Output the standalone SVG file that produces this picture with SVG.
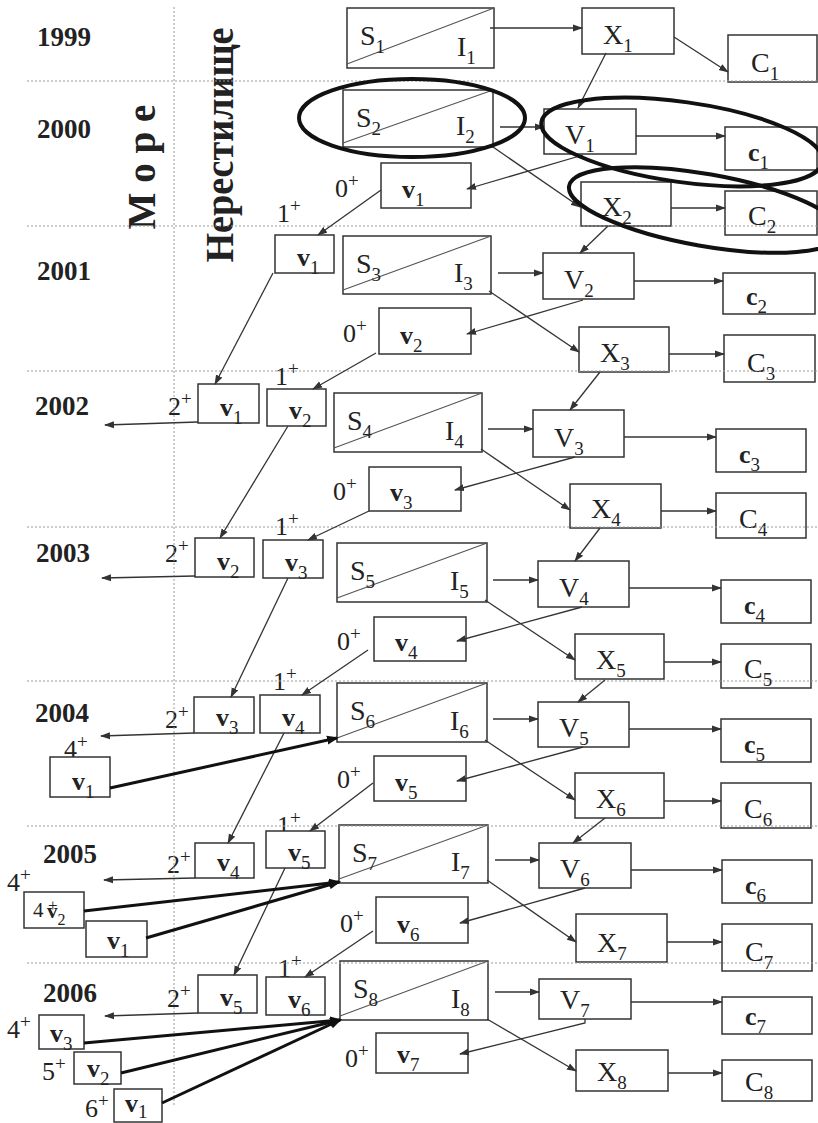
<svg xmlns="http://www.w3.org/2000/svg" width="818" height="1123" viewBox="0 0 818 1123">
<defs>
<marker id="ah" markerUnits="userSpaceOnUse" markerWidth="10" markerHeight="8" refX="9" refY="4" orient="auto"><path d="M0,0.5 L10,4 L0,7.5 z" fill="#333"/></marker>
<marker id="ahb" markerUnits="userSpaceOnUse" markerWidth="12" markerHeight="10" refX="10" refY="5" orient="auto"><path d="M0,0.5 L12,5 L0,9.5 z" fill="#111"/></marker>
<style>
text{font-family:"Liberation Serif","Times New Roman",serif}
.t{fill:#222}
.u{font-size:28px}
.l{font-size:26px;font-weight:bold}
.sb{font-size:19px;font-weight:normal}
.n{font-size:26px}
.sp{font-size:19px}
.yr{font-size:27px;font-weight:bold}
.big{font-size:40px;font-weight:bold}
.b{fill:#fff;stroke:#333;stroke-width:1.5}
.dg{stroke:#555;stroke-width:1.1}
.g{stroke:#9a9a9a;stroke-width:1;stroke-dasharray:2 2;fill:none}
.c{stroke:#333;stroke-width:1.3;fill:none;marker-end:url(#ah)}
.k{stroke:#111;stroke-width:3;fill:none;marker-end:url(#ahb)}
.e{fill:none;stroke:#111;stroke-width:4}
</style>
</defs>
<rect x="0" y="0" width="818" height="1123" fill="#fff"/>

<g id="labels">
<text class="t yr" x="37" y="46">1999</text>
<text class="t yr" x="37" y="138">2000</text>
<text class="t yr" x="37" y="280">2001</text>
<text class="t yr" x="35" y="415">2002</text>
<text class="t yr" x="36" y="562">2003</text>
<text class="t yr" x="35" y="722">2004</text>
<text class="t yr" x="43" y="863">2005</text>
<text class="t yr" x="43" y="1002">2006</text>
<text class="t big" transform="translate(155,167) rotate(-90)" text-anchor="middle" textLength="125" lengthAdjust="spacingAndGlyphs">М о р е</text>
<text class="t big" transform="translate(233,145) rotate(-90)" text-anchor="middle" textLength="235" lengthAdjust="spacingAndGlyphs">Нерестилище</text>

<text class="t n" x="335" y="197">0<tspan class="sp" dy="-10">+</tspan></text>
<text class="t n" x="343" y="342">0<tspan class="sp" dy="-10">+</tspan></text>
<text class="t n" x="333" y="500">0<tspan class="sp" dy="-10">+</tspan></text>
<text class="t n" x="337" y="650">0<tspan class="sp" dy="-10">+</tspan></text>
<text class="t n" x="337" y="788">0<tspan class="sp" dy="-10">+</tspan></text>
<text class="t n" x="340" y="932">0<tspan class="sp" dy="-10">+</tspan></text>
<text class="t n" x="345" y="1067">0<tspan class="sp" dy="-10">+</tspan></text>

<text class="t n" x="277" y="222">1<tspan class="sp" dy="-10">+</tspan></text>
<text class="t n" x="275" y="385">1<tspan class="sp" dy="-10">+</tspan></text>
<text class="t n" x="275" y="535">1<tspan class="sp" dy="-10">+</tspan></text>
<text class="t n" x="273" y="690">1<tspan class="sp" dy="-10">+</tspan></text>
<text class="t n" x="277" y="834">1<tspan class="sp" dy="-10">+</tspan></text>
<text class="t n" x="278" y="977">1<tspan class="sp" dy="-10">+</tspan></text>

<text class="t n" x="168" y="415">2<tspan class="sp" dy="-10">+</tspan></text>
<text class="t n" x="165" y="562">2<tspan class="sp" dy="-10">+</tspan></text>
<text class="t n" x="165" y="728">2<tspan class="sp" dy="-10">+</tspan></text>
<text class="t n" x="167" y="873">2<tspan class="sp" dy="-10">+</tspan></text>
<text class="t n" x="167" y="1007">2<tspan class="sp" dy="-10">+</tspan></text>

<text class="t n" x="64" y="758">4<tspan class="sp" dy="-10">+</tspan></text>
<text class="t n" x="7" y="891">4<tspan class="sp" dy="-10">+</tspan></text>
<text class="t n" x="7" y="1038">4<tspan class="sp" dy="-10">+</tspan></text>
<text class="t n" x="42" y="1080">5<tspan class="sp" dy="-10">+</tspan></text>
<text class="t n" x="85" y="1117">6<tspan class="sp" dy="-10">+</tspan></text>
</g>

<g id="nodes">
<g id="S1"><rect class="b" x="347" y="8" width="147" height="60"/><line class="dg" x1="347" y1="64" x2="494" y2="8"/><text class="t u" x="360" y="45">S<tspan class="sb" dy="8">1</tspan></text><text class="t u" x="457" y="56">I<tspan class="sb" dy="8">1</tspan></text></g>
<g id="S2"><rect class="b" x="343" y="90" width="150" height="57"/><line class="dg" x1="343" y1="143" x2="493" y2="90"/><text class="t u" x="356" y="127">S<tspan class="sb" dy="8">2</tspan></text><text class="t u" x="456" y="135">I<tspan class="sb" dy="8">2</tspan></text></g>
<g id="S3"><rect class="b" x="343" y="236" width="148" height="58"/><line class="dg" x1="343" y1="290" x2="491" y2="236"/><text class="t u" x="356" y="273">S<tspan class="sb" dy="8">3</tspan></text><text class="t u" x="454" y="282">I<tspan class="sb" dy="8">3</tspan></text></g>
<g id="S4"><rect class="b" x="334" y="393" width="148" height="59"/><line class="dg" x1="334" y1="448" x2="482" y2="393"/><text class="t u" x="347" y="430">S<tspan class="sb" dy="8">4</tspan></text><text class="t u" x="445" y="440">I<tspan class="sb" dy="8">4</tspan></text></g>
<g id="S5"><rect class="b" x="337" y="543" width="150" height="59"/><line class="dg" x1="337" y1="598" x2="487" y2="543"/><text class="t u" x="350" y="580">S<tspan class="sb" dy="8">5</tspan></text><text class="t u" x="450" y="590">I<tspan class="sb" dy="8">5</tspan></text></g>
<g id="S6"><rect class="b" x="337" y="683" width="150" height="59"/><line class="dg" x1="337" y1="738" x2="487" y2="683"/><text class="t u" x="350" y="720">S<tspan class="sb" dy="8">6</tspan></text><text class="t u" x="450" y="730">I<tspan class="sb" dy="8">6</tspan></text></g>
<g id="S7"><rect class="b" x="339" y="825" width="149" height="58"/><line class="dg" x1="339" y1="879" x2="488" y2="825"/><text class="t u" x="352" y="862">S<tspan class="sb" dy="8">7</tspan></text><text class="t u" x="451" y="871">I<tspan class="sb" dy="8">7</tspan></text></g>
<g id="S8"><rect class="b" x="340" y="961" width="148" height="59"/><line class="dg" x1="340" y1="1016" x2="488" y2="961"/><text class="t u" x="353" y="998">S<tspan class="sb" dy="8">8</tspan></text><text class="t u" x="451" y="1008">I<tspan class="sb" dy="8">8</tspan></text></g>

<g id="X1"><rect class="b" x="582" y="8" width="92" height="46"/><text class="t u" x="603" y="44">X<tspan class="sb" dy="8">1</tspan></text></g>
<g id="X2"><rect class="b" x="581" y="182" width="90" height="44"/><text class="t u" x="602" y="216">X<tspan class="sb" dy="8">2</tspan></text></g>
<g id="X3"><rect class="b" x="579" y="327" width="90" height="45"/><text class="t u" x="600" y="362">X<tspan class="sb" dy="8">3</tspan></text></g>
<g id="X4"><rect class="b" x="570" y="484" width="91" height="44"/><text class="t u" x="591" y="518">X<tspan class="sb" dy="8">4</tspan></text></g>
<g id="X5"><rect class="b" x="575" y="634" width="89" height="45"/><text class="t u" x="596" y="669">X<tspan class="sb" dy="8">5</tspan></text></g>
<g id="X6"><rect class="b" x="575" y="773" width="89" height="45"/><text class="t u" x="596" y="808">X<tspan class="sb" dy="8">6</tspan></text></g>
<g id="X7"><rect class="b" x="576" y="914" width="91" height="48"/><text class="t u" x="597" y="952">X<tspan class="sb" dy="8">7</tspan></text></g>
<g id="X8"><rect class="b" x="576" y="1050" width="92" height="41"/><text class="t u" x="597" y="1081">X<tspan class="sb" dy="8">8</tspan></text></g>

<g id="C1"><rect class="b" x="728" y="35" width="89" height="47"/><text class="t u" x="751" y="72">C<tspan class="sb" dy="8">1</tspan></text></g>
<g id="C2"><rect class="b" x="725" y="191" width="92" height="44"/><text class="t u" x="748" y="225">C<tspan class="sb" dy="8">2</tspan></text></g>
<g id="C3"><rect class="b" x="724" y="335" width="91" height="47"/><text class="t u" x="747" y="372">C<tspan class="sb" dy="8">3</tspan></text></g>
<g id="C4"><rect class="b" x="716" y="493" width="90" height="45"/><text class="t u" x="739" y="528">C<tspan class="sb" dy="8">4</tspan></text></g>
<g id="C5"><rect class="b" x="721" y="644" width="90" height="44"/><text class="t u" x="744" y="678">C<tspan class="sb" dy="8">5</tspan></text></g>
<g id="C6"><rect class="b" x="721" y="783" width="90" height="45"/><text class="t u" x="744" y="818">C<tspan class="sb" dy="8">6</tspan></text></g>
<g id="C7"><rect class="b" x="722" y="924" width="90" height="47"/><text class="t u" x="745" y="961">C<tspan class="sb" dy="8">7</tspan></text></g>
<g id="C8"><rect class="b" x="722" y="1060" width="90" height="41"/><text class="t u" x="745" y="1091">C<tspan class="sb" dy="8">8</tspan></text></g>

<g id="V1"><rect class="b" x="544" y="109" width="92" height="45"/><text class="t u" x="565" y="144">V<tspan class="sb" dy="8">1</tspan></text></g>
<g id="V2"><rect class="b" x="543" y="253" width="91" height="46"/><text class="t u" x="564" y="289">V<tspan class="sb" dy="8">2</tspan></text></g>
<g id="V3"><rect class="b" x="533" y="410" width="91" height="47"/><text class="t u" x="554" y="447">V<tspan class="sb" dy="8">3</tspan></text></g>
<g id="V4"><rect class="b" x="538" y="561" width="91" height="46"/><text class="t u" x="559" y="597">V<tspan class="sb" dy="8">4</tspan></text></g>
<g id="V5"><rect class="b" x="538" y="702" width="91" height="45"/><text class="t u" x="559" y="737">V<tspan class="sb" dy="8">5</tspan></text></g>
<g id="V6"><rect class="b" x="539" y="843" width="92" height="45"/><text class="t u" x="560" y="878">V<tspan class="sb" dy="8">6</tspan></text></g>
<g id="V7"><rect class="b" x="539" y="979" width="92" height="40"/><text class="t u" x="560" y="1009">V<tspan class="sb" dy="8">7</tspan></text></g>

<g id="c1"><rect class="b" x="725" y="127" width="92" height="43"/><text class="t l" x="748" y="161">c<tspan class="sb" dy="8">1</tspan></text></g>
<g id="c2"><rect class="b" x="723" y="273" width="92" height="41"/><text class="t l" x="746" y="305">c<tspan class="sb" dy="8">2</tspan></text></g>
<g id="c3"><rect class="b" x="716" y="429" width="90" height="43"/><text class="t l" x="739" y="463">c<tspan class="sb" dy="8">3</tspan></text></g>
<g id="c4"><rect class="b" x="721" y="580" width="90" height="43"/><text class="t l" x="744" y="614">c<tspan class="sb" dy="8">4</tspan></text></g>
<g id="c5"><rect class="b" x="721" y="719" width="90" height="43"/><text class="t l" x="744" y="753">c<tspan class="sb" dy="8">5</tspan></text></g>
<g id="c6"><rect class="b" x="722" y="860" width="90" height="43"/><text class="t l" x="745" y="894">c<tspan class="sb" dy="8">6</tspan></text></g>
<g id="c7"><rect class="b" x="722" y="997" width="90" height="37"/><text class="t l" x="745" y="1025">c<tspan class="sb" dy="8">7</tspan></text></g>

<g id="v1_0"><rect class="b" x="381" y="163" width="90" height="45"/><text class="t l" x="402" y="198">v<tspan class="sb" dy="8">1</tspan></text></g>
<g id="v2_0"><rect class="b" x="379" y="308" width="92" height="46"/><text class="t l" x="400" y="344">v<tspan class="sb" dy="8">2</tspan></text></g>
<g id="v3_0"><rect class="b" x="369" y="467" width="92" height="44"/><text class="t l" x="390" y="501">v<tspan class="sb" dy="8">3</tspan></text></g>
<g id="v4_0"><rect class="b" x="374" y="617" width="92" height="44"/><text class="t l" x="395" y="651">v<tspan class="sb" dy="8">4</tspan></text></g>
<g id="v5_0"><rect class="b" x="374" y="756" width="92" height="45"/><text class="t l" x="395" y="791">v<tspan class="sb" dy="8">5</tspan></text></g>
<g id="v6_0"><rect class="b" x="376" y="897" width="92" height="46"/><text class="t l" x="397" y="933">v<tspan class="sb" dy="8">6</tspan></text></g>
<g id="v7_0"><rect class="b" x="376" y="1033" width="92" height="40"/><text class="t l" x="397" y="1063">v<tspan class="sb" dy="8">7</tspan></text></g>

<g id="v1_1"><rect class="b" x="275" y="235" width="59" height="38"/><text class="t l" x="297" y="266">v<tspan class="sb" dy="8">1</tspan></text></g>
<g id="v2_1"><rect class="b" x="267" y="389" width="59" height="37"/><text class="t l" x="289" y="419">v<tspan class="sb" dy="8">2</tspan></text></g>
<g id="v3_1"><rect class="b" x="263" y="540" width="60" height="38"/><text class="t l" x="285" y="571">v<tspan class="sb" dy="8">3</tspan></text></g>
<g id="v4_1"><rect class="b" x="260" y="695" width="60" height="38"/><text class="t l" x="282" y="726">v<tspan class="sb" dy="8">4</tspan></text></g>
<g id="v5_1"><rect class="b" x="266" y="831" width="59" height="37"/><text class="t l" x="288" y="861">v<tspan class="sb" dy="8">5</tspan></text></g>
<g id="v6_1"><rect class="b" x="266" y="977" width="59" height="38"/><text class="t l" x="288" y="1008">v<tspan class="sb" dy="8">6</tspan></text></g>

<g id="v1_2"><rect class="b" x="198" y="384" width="61" height="39"/><text class="t l" x="220" y="416">v<tspan class="sb" dy="8">1</tspan></text></g>
<g id="v2_2"><rect class="b" x="195" y="538" width="59" height="39"/><text class="t l" x="217" y="570">v<tspan class="sb" dy="8">2</tspan></text></g>
<g id="v3_2"><rect class="b" x="194" y="697" width="60" height="36"/><text class="t l" x="216" y="726">v<tspan class="sb" dy="8">3</tspan></text></g>
<g id="v4_2"><rect class="b" x="195" y="843" width="59" height="35"/><text class="t l" x="217" y="871">v<tspan class="sb" dy="8">4</tspan></text></g>
<g id="v5_2"><rect class="b" x="198" y="975" width="59" height="38"/><text class="t l" x="220" y="1006">v<tspan class="sb" dy="8">5</tspan></text></g>

<g id="v1_4"><rect class="b" x="50" y="757" width="60" height="40"/><text class="t l" x="72" y="790">v<tspan class="sb" dy="8">1</tspan></text></g>
<g id="v2_4"><rect class="b" x="24" y="892" width="60" height="36"/><text class="t" font-size="21" x="33" y="917">4</text><text class="t" font-size="17" x="48" y="911">+</text><text class="t" font-size="21" font-weight="bold" x="47" y="918">v<tspan font-size="16" font-weight="normal" dy="7">2</tspan></text></g>
<g id="v1_5"><rect class="b" x="86" y="921" width="61" height="36"/><text class="t l" x="107" y="949">v<tspan class="sb" dy="8">1</tspan></text></g>
<g id="v3_4"><rect class="b" x="39" y="1015" width="45" height="34"/><text class="t l" x="50" y="1042">v<tspan class="sb" dy="8">3</tspan></text></g>
<g id="v2_5"><rect class="b" x="74" y="1052" width="47" height="32"/><text class="t l" x="87" y="1077">v<tspan class="sb" dy="8">2</tspan></text></g>
<g id="v1_6"><rect class="b" x="114" y="1089" width="48" height="33"/><text class="t l" x="125" y="1112">v<tspan class="sb" dy="6">1</tspan></text></g>
</g>

<g id="grid">
<line class="g" x1="27" y1="81" x2="818" y2="81"/>
<line class="g" x1="27" y1="226" x2="818" y2="226"/>
<line class="g" x1="27" y1="371" x2="818" y2="371"/>
<line class="g" x1="27" y1="527" x2="818" y2="527"/>
<line class="g" x1="27" y1="681" x2="818" y2="681"/>
<line class="g" x1="27" y1="826" x2="818" y2="826"/>
<line class="g" x1="27" y1="963" x2="818" y2="963"/>
<line class="g" x1="174" y1="7" x2="174" y2="1105"/>
</g>

<g id="connectors">
<line class="c" x1="490" y1="28" x2="582" y2="28"/>
<line class="c" x1="674" y1="37" x2="728" y2="72"/>
<line class="c" x1="606" y1="53" x2="578" y2="108"/>
<line class="c" x1="500" y1="127" x2="544" y2="127"/>
<line class="c" x1="636" y1="136" x2="725" y2="136"/>
<line class="c" x1="583" y1="155" x2="467" y2="189"/>
<line class="c" x1="493" y1="147" x2="580" y2="207"/>
<line class="c" x1="671" y1="208" x2="725" y2="208"/>
<line class="c" x1="608" y1="226" x2="580" y2="253"/>
<line class="c" x1="381" y1="190" x2="318" y2="235"/>
<line class="c" x1="498" y1="273" x2="543" y2="273"/>
<line class="c" x1="634" y1="281" x2="723" y2="281"/>
<line class="c" x1="583" y1="300" x2="467" y2="334"/>
<line class="c" x1="489" y1="291" x2="579" y2="352"/>
<line class="c" x1="669" y1="354" x2="724" y2="354"/>
<line class="c" x1="600" y1="372" x2="570" y2="410"/>
<line class="c" x1="376" y1="353" x2="313" y2="389"/>
<line class="c" x1="273" y1="273" x2="215" y2="384"/>
<line class="c" x1="198" y1="422" x2="105" y2="425"/>
<line class="c" x1="488" y1="429" x2="533" y2="429"/>
<line class="c" x1="624" y1="437" x2="716" y2="437"/>
<line class="c" x1="575" y1="457" x2="455" y2="490"/>
<line class="c" x1="481" y1="449" x2="570" y2="510"/>
<line class="c" x1="661" y1="511" x2="716" y2="511"/>
<line class="c" x1="600" y1="528" x2="575" y2="561"/>
<line class="c" x1="369" y1="511" x2="308" y2="540"/>
<line class="c" x1="288" y1="426" x2="220" y2="538"/>
<line class="c" x1="195" y1="576" x2="102" y2="578"/>
<line class="c" x1="493" y1="580" x2="538" y2="580"/>
<line class="c" x1="629" y1="588" x2="721" y2="588"/>
<line class="c" x1="582" y1="607" x2="457" y2="641"/>
<line class="c" x1="485" y1="600" x2="575" y2="660"/>
<line class="c" x1="664" y1="662" x2="721" y2="662"/>
<line class="c" x1="605" y1="680" x2="578" y2="702"/>
<line class="c" x1="368" y1="650" x2="302" y2="695"/>
<line class="c" x1="288" y1="578" x2="231" y2="697"/>
<line class="c" x1="194" y1="733" x2="101" y2="736"/>
<line class="c" x1="493" y1="719" x2="538" y2="719"/>
<line class="c" x1="629" y1="729" x2="721" y2="729"/>
<line class="c" x1="583" y1="747" x2="457" y2="781"/>
<line class="c" x1="485" y1="740" x2="575" y2="800"/>
<line class="c" x1="664" y1="801" x2="721" y2="801"/>
<line class="c" x1="605" y1="818" x2="573" y2="843"/>
<line class="c" x1="373" y1="783" x2="310" y2="831"/>
<line class="c" x1="284" y1="733" x2="228" y2="843"/>
<line class="c" x1="195" y1="878" x2="104" y2="880"/>
<line class="c" x1="495" y1="860" x2="539" y2="860"/>
<line class="c" x1="631" y1="870" x2="722" y2="870"/>
<line class="c" x1="585" y1="888" x2="460" y2="923"/>
<line class="c" x1="487" y1="880" x2="576" y2="942"/>
<line class="c" x1="667" y1="942" x2="722" y2="942"/>
<line class="c" x1="373" y1="931" x2="305" y2="977"/>
<line class="c" x1="285" y1="868" x2="234" y2="975"/>
<line class="c" x1="198" y1="1013" x2="105" y2="1016"/>
<line class="c" x1="495" y1="992" x2="539" y2="992"/>
<line class="c" x1="631" y1="1002" x2="722" y2="1002"/>
<polyline class="c" points="585,1019 585,1023 460,1054"/>
<line class="c" x1="487" y1="1019" x2="576" y2="1071"/>
<line class="c" x1="668" y1="1073" x2="722" y2="1073"/>

<line class="k" x1="110" y1="788" x2="337" y2="738"/>
<line class="k" x1="84" y1="911" x2="339" y2="882"/>
<line class="k" x1="146" y1="938" x2="339" y2="882"/>
<line class="k" x1="84" y1="1043" x2="340" y2="1020"/>
<line class="k" x1="121" y1="1073" x2="340" y2="1020"/>
<line class="k" x1="162" y1="1103" x2="340" y2="1020"/>
</g>

<g id="ellipses">
<ellipse class="e" cx="412" cy="118" rx="113" ry="39"/>
<ellipse class="e" cx="682" cy="142" rx="142" ry="40" transform="rotate(8 682 142)"/>
<ellipse class="e" cx="705" cy="210" rx="138" ry="36" transform="rotate(10 705 210)"/>
</g>
</svg>
